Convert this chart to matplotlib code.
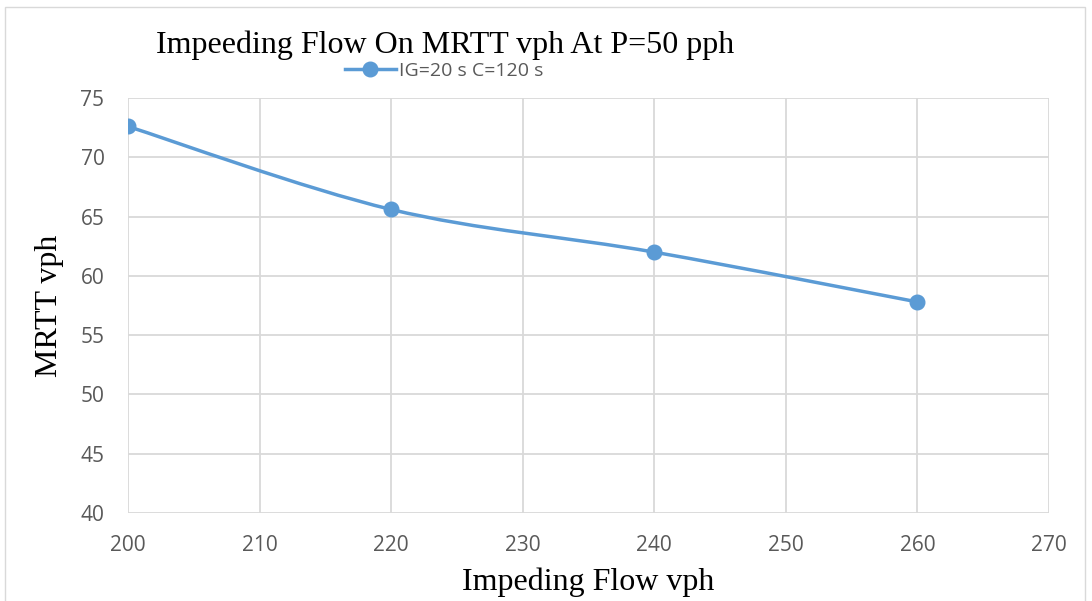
import numpy as np
import matplotlib
matplotlib.use("Agg")
import matplotlib.pyplot as plt
from matplotlib.path import Path
from matplotlib.patches import PathPatch, Rectangle
from matplotlib.lines import Line2D

# data
impeding_flow = [200, 220, 240, 260]
mrtt = [72.6, 65.6, 62.0, 57.8]
series_label = "IG=20 s C=120 s"
x_ticks = [200, 210, 220, 230, 240, 250, 260, 270]
y_ticks = [40, 45, 50, 55, 60, 65, 70, 75]

BLUE = "#5B9BD5"
GRID = "#D9D9D9"
TICK = "#595959"


def smooth_path(xs, ys):
    """ Excel-like smoothed line: Catmull-Rom as cubic bezier segments """
    pts = np.column_stack([xs, ys]).astype(float)
    ext = np.vstack([pts[0], pts, pts[-1]])
    verts = [pts[0]]
    codes = [Path.MOVETO]
    for i in range(1, len(ext) - 2):
        p0, p1, p2, p3 = ext[i - 1], ext[i], ext[i + 1], ext[i + 2]
        verts += [p1 + (p2 - p0) / 6, p2 - (p3 - p1) / 6, p2]
        codes += [Path.CURVE4] * 3
    return Path(verts, codes)


fig = plt.figure(figsize=(10.92, 6.01), dpi=100)
ax = fig.add_axes([128 / 1092, 1 - 513 / 601, (1049 - 128) / 1092, (513 - 98) / 601])

ax.add_patch(PathPatch(smooth_path(impeding_flow, mrtt), fill=False,
                       edgecolor=BLUE, lw=2.5, capstyle="round", zorder=3))
ax.plot(impeding_flow, mrtt, ls="none", marker="o", ms=10.5, color=BLUE, zorder=4)

ax.set_xlim(200, 270)
ax.set_ylim(40, 75)
ax.set_xticks(x_ticks)
ax.set_yticks(y_ticks)
ax.grid(True, color=GRID, lw=1.3)
ax.set_axisbelow(True)
for s in ax.spines.values():
    s.set_visible(False)
ax.tick_params(length=0, labelsize=15, labelcolor=TICK)
ax.tick_params(axis="y", pad=17)
ax.tick_params(axis="x", pad=16)
for lab in ax.get_xticklabels() + ax.get_yticklabels():
    lab.set_fontfamily("Open Sans")

ax.set_xlabel("Impeding Flow vph", fontfamily="Liberation Serif", fontsize=23, labelpad=8)
ax.set_ylabel("MRTT vph", fontfamily="Liberation Serif", fontsize=23, labelpad=12)

fig.text(445 / 1092, 1 - 45 / 601, "Impeeding Flow On MRTT vph At P=50 pph",
         ha="center", va="center", fontfamily="Liberation Serif", fontsize=23)

handle = Line2D([], [], color=BLUE, lw=2.5, marker="o", ms=10.5)
fig.legend([handle], [series_label], loc="center", bbox_to_anchor=(444 / 1092, 1 - 71 / 601),
           frameon=False, prop={"family": "Open Sans", "size": 14}, labelcolor=TICK,
           handlelength=2.6, handletextpad=0.15)

fig.add_artist(Rectangle((5 / 1092, -0.01), 1080 / 1092, 1 - 7 / 601 + 0.01,
                         transform=fig.transFigure, fill=False, edgecolor=GRID, lw=1))

fig.savefig("out.png", dpi=100)
